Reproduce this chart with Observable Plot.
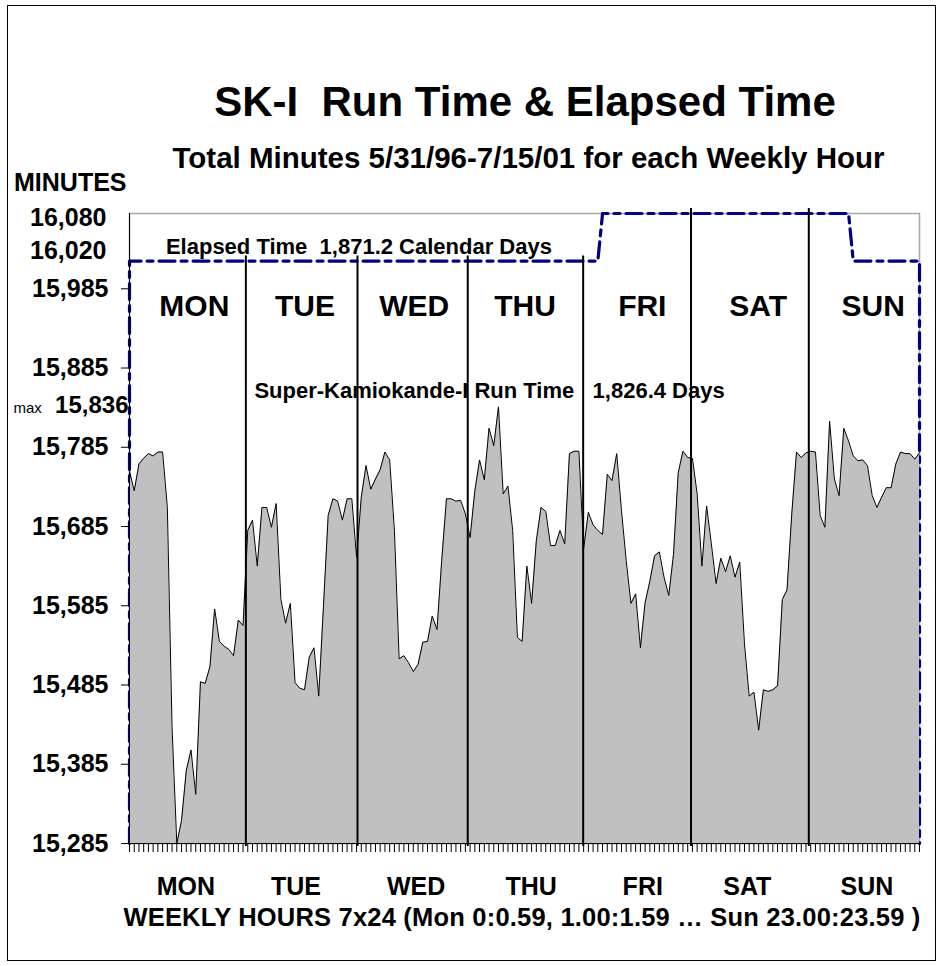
<!DOCTYPE html>
<html>
<head>
<meta charset="utf-8">
<script src="https://cdn.jsdelivr.net/npm/d3@7"></script>
<script src="https://cdn.jsdelivr.net/npm/@observablehq/plot@0.6"></script>
<style>
  body { margin: 0; background: #fff; }
  #page { position: relative; width: 939px; height: 966px; overflow: hidden; background: #fff;
          font-family: "Liberation Sans", Arial, sans-serif; font-weight: bold; color: #000; }
  .t { position: absolute; white-space: pre; line-height: 1; }
  #border { position: absolute; left: 7px; top: 5px; width: 929px; height: 956px; border: 1px solid #000; box-sizing: border-box; }
  #chart { position: absolute; left: 0; top: 190px; }
</style>
</head>
<body>
<div id="page">
  <div id="border"></div>
  <div class="t" style="left:0;width:1050px;text-align:center;top:80.5px;font-size:42px;">SK-I  Run Time &amp; Elapsed Time</div>
  <div class="t" style="left:0;width:1057px;text-align:center;top:143px;font-size:29.5px;">Total Minutes 5/31/96-7/15/01 for each Weekly Hour</div>
  <div class="t" style="left:14px;top:170px;font-size:25px;">MINUTES</div>
  <div id="chart"></div>
  <div class="t" style="left:0;width:1044px;text-align:center;top:905px;font-size:25.5px;letter-spacing:0.2px;">WEEKLY HOURS 7x24 (Mon 0:0.59, 1.00:1.59 … Sun 23.00:23.59 )</div>
</div>
<script>
// ---- data ----
const days = ["MON", "TUE", "WED", "THU", "FRI", "SAT", "SUN"];

// Run time minutes for each of the 168 weekly hours (Mon 0h ... Sun 23h)
const runMinutes = [
  15755,15730,15764,15771,15777,15774,15779,15779,15709,15431,
  15285,15314,15377,15403,15347,15489,15487,15508,15581,15540,
  15534,15530,15522,15567,15560,15680,15693,15635,15709,15709,
  15684,15714,15593,15563,15588,15488,15481,15479,15520,15532,
  15471,15584,15699,15720,15717,15693,15720,15720,15646,15722,
  15762,15732,15745,15757,15779,15769,15680,15518,15522,15513,
  15502,15511,15539,15540,15572,15555,15642,15720,15720,15717,
  15718,15701,15671,15730,15769,15744,15809,15787,15836,15726,
  15736,15680,15545,15540,15635,15588,15667,15709,15704,15661,
  15661,15680,15663,15777,15780,15780,15657,15703,15687,15680,
  15675,15751,15743,15777,15705,15642,15588,15600,15532,15589,
  15616,15648,15653,15621,15598,15650,15753,15780,15772,15771,
  15726,15635,15711,15663,15613,15645,15628,15648,15621,15640,
  15537,15471,15476,15428,15479,15477,15479,15484,15593,15605,
  15701,15779,15772,15778,15780,15779,15699,15684,15818,15745,
  15724,15809,15793,15774,15768,15769,15762,15724,15709,15722,
  15734,15734,15764,15779,15777,15777,15770,15778
];

// Elapsed-time outline vertices (weekly hour index, minutes)
const elapsedHour    = [0,     0,     99,    100,   152,   153,   167,   167];
const elapsedMinutes = [15285, 16020, 16020, 16080, 16080, 16020, 16020, 15285];

// Day separators (hour position) and the elapsed level they reach
const separatorHour = [24.6, 48.2, 71.5, 95.9, 118.7, 143.6];
const separatorTop  = [16020, 16020, 16020, 16020, 16080, 16080];

// Day label positions (hour index) inside the plot and under the axis
const dayTopHour    = [13.7, 37.1, 60.2, 83.6, 108.4, 132.9, 157.2];
const dayBottomHour = [11.9, 35.2, 60.6, 84.9, 108.5, 130.6, 155.9];

// Y tick values and extra y labels
const yTicks = [15285, 15385, 15485, 15585, 15685, 15785, 15885, 15985];
const yMin = 15285, yMax = 16080;
const extraLabelMinutes = [16080, 16020, 15836];
const extraLabelText = ["16,080", "16,020", "15,836"];

const elapsedNote = "Elapsed Time\u00a0 1,871.2 Calendar Days";
const elapsedNoteHour = 7.7;
const runNote = "Super-Kamiokande-I Run Time\u00a0\u00a0 1,826.4 Days";
const runNoteHour = 26.4;

// ---- build tables ----
const hours = d3.range(runMinutes.length);
const runData = hours.map(i => ({hour: i, minutes: runMinutes[i]}));
const elapsedData = elapsedHour.map((h, i) => ({hour: h, minutes: elapsedMinutes[i]}));
const separators = separatorHour.map((h, i) => ({hour: h, top: separatorTop[i]}));

const FONT = "'Liberation Sans', Arial, sans-serif";

const chart = Plot.plot({
  width: 939,
  height: 715,
  marginLeft: 129,
  marginRight: 20,
  marginTop: 23,
  marginBottom: 62,
  x: {domain: [0, 167], axis: null},
  y: {domain: [yMin, yMax], axis: null},
  style: {fontFamily: FONT, fontWeight: "bold", background: "transparent", overflow: "visible", color: "#000"},
  marks: [
    Plot.frame({stroke: "#a8a8a8", strokeWidth: 1.5}),
    Plot.line(elapsedData, {x: "hour", y: "minutes", stroke: "#000080", strokeWidth: 3.2, strokeDasharray: "16,6,6,6"}),
    Plot.areaY(runData, {x: "hour", y1: yMin, y2: "minutes", fill: "#c0c0c0"}),
    Plot.lineY(runData, {x: "hour", y: "minutes", stroke: "#000", strokeWidth: 1}),
    Plot.ruleX(separators, {x: "hour", y1: yMin, y2: "top", stroke: "#000", strokeWidth: 2, insetBottom: 5, insetTop: 3}),
    Plot.ruleX([0], {stroke: "#000", strokeWidth: 1}),
    Plot.ruleY([yMin], {stroke: "#000", strokeWidth: 1}),
    Plot.axisX({ticks: hours, tickSize: 9, tickFormat: () => "", label: null, stroke: "#000"}),
    Plot.axisY({ticks: yTicks, tickSize: 8, tickPadding: 13, tickFormat: d3.format(","), label: null,
                fontSize: 25, fontWeight: "bold", stroke: "#000", fill: "#000"}),
    Plot.text([0], {y: () => extraLabelMinutes[0], text: () => extraLabelText[0], frameAnchor: "left", textAnchor: "end", dx: -23, dy: 4, fontSize: 25, fontWeight: "bold"}),
    Plot.text([1], {y: () => extraLabelMinutes[1], text: () => extraLabelText[1], frameAnchor: "left", textAnchor: "end", dx: -23, dy: -10, fontSize: 25, fontWeight: "bold"}),
    Plot.text([2], {y: () => extraLabelMinutes[2], text: () => extraLabelText[2], frameAnchor: "left", textAnchor: "end", dx: -1, dy: -2, fontSize: 24, fontWeight: "bold"}),
    Plot.text(["max"], {y: () => extraLabelMinutes[2], text: d => d, frameAnchor: "left", textAnchor: "start", dx: -116, dy: 1, fontSize: 15, fontWeight: "normal"}),
    Plot.text(days, {x: (d, i) => dayTopHour[i], text: d => d, frameAnchor: "top", lineAnchor: "top", dy: 81, fontSize: 30, fontWeight: "bold"}),
    Plot.text(days, {x: (d, i) => dayBottomHour[i], text: d => d, frameAnchor: "bottom", lineAnchor: "middle", dy: 43, fontSize: 25, fontWeight: "bold"}),
    Plot.text([elapsedNote], {x: () => elapsedNoteHour, y: () => elapsedMinutes[1], text: d => d, textAnchor: "start", lineAnchor: "bottom", dy: -6.7, fontSize: 22, fontWeight: "bold"}),
    Plot.text([runNote], {x: () => runNoteHour, text: d => d, frameAnchor: "top", textAnchor: "start", lineAnchor: "bottom", dy: 184, fontSize: 22, fontWeight: "bold"})
  ]
});
document.getElementById("chart").appendChild(chart);
</script>
</body>
</html>
